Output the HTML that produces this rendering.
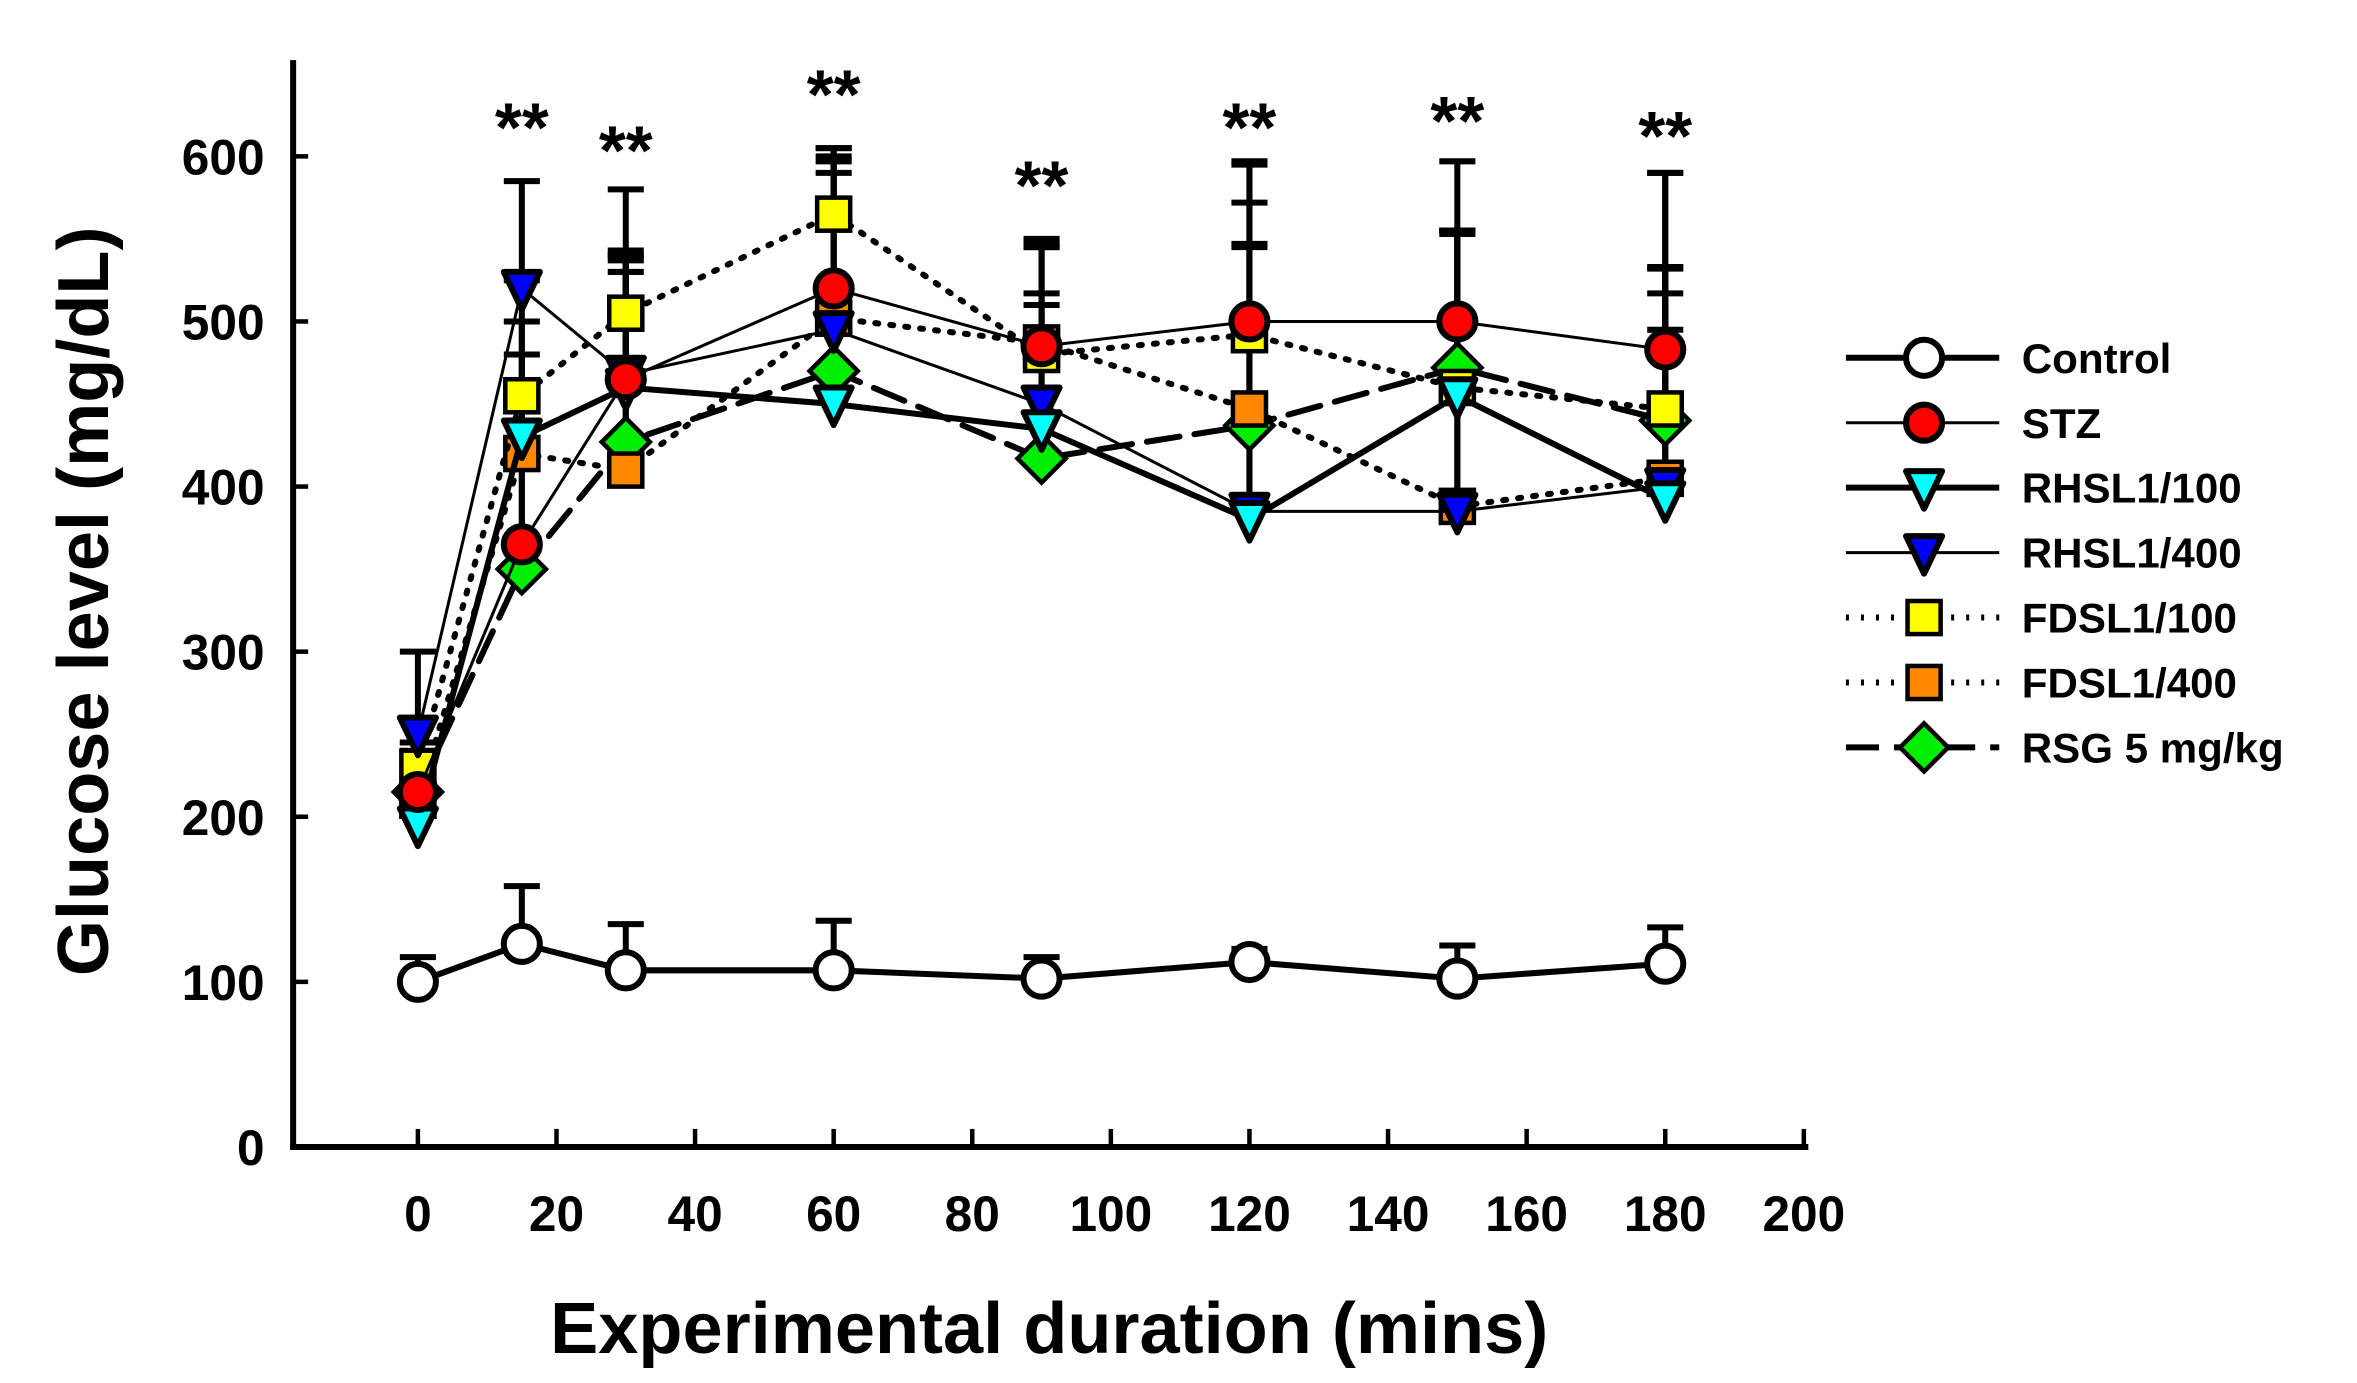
<!DOCTYPE html>
<html><head><meta charset="utf-8"><style>
html,body{margin:0;padding:0;background:#fff;}
svg{display:block;font-family:"Liberation Sans",Arial,sans-serif;font-weight:bold;}
</style></head><body>
<svg id="chart" width="2357" height="1383" viewBox="0 0 1568 920" xmlns="http://www.w3.org/2000/svg"></svg>
<script>
const times=[0,15,30,60,90,120,150,180];
const xTicks=[0,20,40,60,80,100,120,140,160,180,200];
const yTicks=[0,100,200,300,400,500,600];
const controlVals=[100,123,107,107,102,112,102,111];
const controlErr=[15,35,28,30,13,8,20,22];
const stzVals=[215,365,465,520,485,500,500,483];
const stzErr=[30,60,75,80,60,95,55,50];
const rhsl100Vals=[195,430,460,450,435,380,455,392];
const rhsl100Err=[25,50,70,60,75,120,100,140];
const rhsl400Vals=[250,520,468,495,450,385,385,400];
const rhsl400Err=[50,65,75,110,100,160,170,190];
const fdsl100Vals=[230,455,505,565,480,492,460,447];
const fdsl100Err=[30,70,75,40,65,80,95,70];
const fdsl400Vals=[210,420,410,502,487,447,388,405];
const fdsl400Err=[30,80,130,95,60,100,165,90];
const rsgVals=[215,350,427,470,417,437,472,440];
const rsgErr=[30,70,110,120,100,160,125,150];
const starTimes=[15,30,60,90,120,150,180];
const starVals=[632,618,652,597,632,636,627];

const NS="http://www.w3.org/2000/svg";
const svg=document.getElementById('chart');
const X0=278,X1=1200,Y0=763,Y600=104;
const xs=v=>X0+(v/200)*(X1-X0);
const ys=v=>Y0-(v/600)*(Y0-Y600);
function mk(tag,attrs,parent){const e=document.createElementNS(NS,tag);for(const k in attrs)e.setAttribute(k,attrs[k]);(parent||svg).appendChild(e);return e;}

let ax=mk('line',{x1:195,y1:40,x2:195,y2:765,stroke:'#000','stroke-width':4});


ax=mk('line',{x1:193,y1:763,x2:1203,y2:763,stroke:'#000','stroke-width':4});


yTicks.forEach(v=>{
  const t=mk('line',{x1:195,y1:ys(v),x2:205,y2:ys(v),stroke:'#000','stroke-width':3});
  
  
  const l=mk('text',{x:176,y:ys(v)+12,'text-anchor':'end','font-size':33});
  l.textContent=v;
  
  
});
xTicks.forEach(v=>{
  const t=mk('line',{x1:xs(v),y1:763,x2:xs(v),y2:751,stroke:'#000','stroke-width':3});
  
  
  const l=mk('text',{x:xs(v),y:819,'text-anchor':'middle','font-size':33});
  l.textContent=v;
  
  
});
let tt=mk('text',{x:698,y:900,'text-anchor':'middle','font-size':48});
tt.textContent='Experimental duration (mins)';


tt=mk('text',{x:0,y:0,'text-anchor':'middle','font-size':48,transform:'translate(72,400) rotate(-90)'});
tt.textContent='Glucose level (mg/dL)';



const series=[
 {name:'control',label:'Control',vals:controlVals,err:controlErr,w:4,dash:'',shape:'circle',fill:'#fff'},
 {name:'stz',label:'STZ',vals:stzVals,err:stzErr,w:2,dash:'',shape:'circle',fill:'#f00'},
 {name:'rhsl1-100',label:'RHSL1/100',vals:rhsl100Vals,err:rhsl100Err,w:4,dash:'',shape:'tri',fill:'#0ff'},
 {name:'rhsl1-400',label:'RHSL1/400',vals:rhsl400Vals,err:rhsl400Err,w:2,dash:'',shape:'tri',fill:'#00f'},
 {name:'fdsl1-100',label:'FDSL1/100',vals:fdsl100Vals,err:fdsl100Err,w:4,dash:'2 8',shape:'sq',fill:'#ff0'},
 {name:'fdsl1-400',label:'FDSL1/400',vals:fdsl400Vals,err:fdsl400Err,w:4,dash:'2 8',shape:'sq',fill:'#f80'},
 {name:'rsg',label:'RSG 5 mg/kg',vals:rsgVals,err:rsgErr,w:4,dash:'22 10',shape:'dia',fill:'#0e0'}
];
function marker(s,x,y,g){
  let m;
  if(s.shape==='circle')m=mk('circle',{cx:x,cy:y,r:12,fill:s.fill,stroke:'#000','stroke-width':4},g);
  else if(s.shape==='tri')m=mk('polygon',{points:`${x-12},${y-11} ${x+12},${y-11} ${x},${y+14}`,fill:s.fill,stroke:'#000','stroke-width':4,'stroke-linejoin':'round'},g);
  else if(s.shape==='sq')m=mk('rect',{x:x-11,y:y-11,width:22,height:22,fill:s.fill,stroke:'#000','stroke-width':3},g);
  else m=mk('polygon',{points:`${x},${y-16} ${x+16},${y} ${x},${y+16} ${x-16},${y}`,fill:s.fill,stroke:'#000','stroke-width':3},g);
  return m;
}
series.forEach(s=>{
  const g=mk('g',{});
  
  
  s.vals.forEach((v,i)=>{
    const x=xs(times[i]),yt=ys(v+s.err[i]);
    const b=mk('line',{x1:x,y1:ys(v),x2:x,y2:yt,stroke:'#000','stroke-width':4},g);
    
    
    const c=mk('line',{x1:x-12,y1:yt,x2:x+12,y2:yt,stroke:'#000','stroke-width':4},g);
    
    
  });
});
series.slice().reverse().forEach(s=>{
  const g=mk('g',{});
  
  
  const pts=s.vals.map((v,i)=>xs(times[i])+','+ys(v)).join(' ');
  const pl=mk('polyline',{points:pts,fill:'none',stroke:'#000','stroke-width':s.w,'stroke-dasharray':s.dash,'stroke-linecap':'round'},g);
  
  
  s.vals.forEach((v,i)=>{
    const m=marker(s,xs(times[i]),ys(v),g);
    
    
  });
});
starTimes.forEach((t,i)=>{
  const s=mk('text',{x:xs(t),y:ys(starVals[i])+32,'text-anchor':'middle','font-size':46});
  s.textContent='**';
  
  
});
const lg=mk('g',{});


series.forEach((s,i)=>{
  const y=238+i*43.2;
  const g=mk('g',{},lg);
  
  
  mk('line',{x1:1228,y1:y,x2:1330,y2:y,stroke:'#000','stroke-width':s.w,'stroke-dasharray':s.dash},g);
  marker(s,1280,y,g);
  const t=mk('text',{x:1345,y:y+10,'font-size':28},g);
  t.textContent=s.label;
  
  
});
</script>
</body></html>
